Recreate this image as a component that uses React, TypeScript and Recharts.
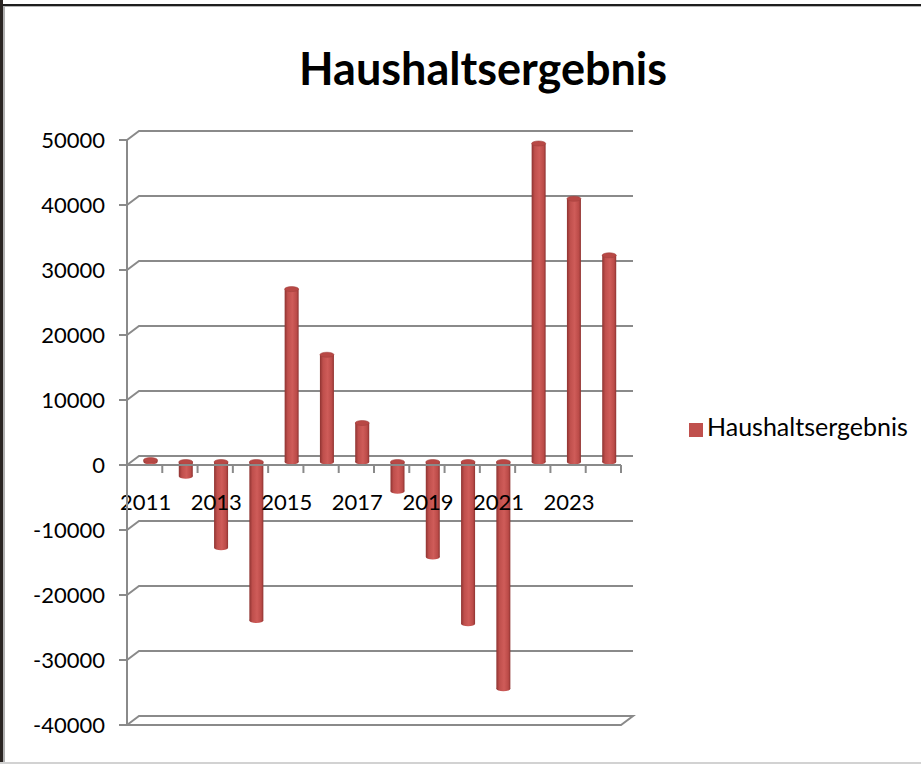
import React from 'react'
import {
  BarChart,
  Bar,
  XAxis,
  YAxis,
  CartesianGrid,
  ReferenceLine,
  Legend,
} from 'recharts'

const years = [
  '2011', '2012', '2013', '2014', '2015', '2016', '2017',
  '2018', '2019', '2020', '2021', '2022', '2023', '2024',
]
const haushaltsergebnis = [
  300, -2200, -13200, -24400, 26600, 16500, 6000,
  -4500, -14600, -24900, -34900, 49000, 40500, 31800,
]
const yTicks = [-40000, -30000, -20000, -10000, 0, 10000, 20000, 30000, 40000, 50000]
const labelledYears = ['2011', '2013', '2015', '2017', '2019', '2021', '2023']

const data = years.map((year, i) => ({ year, Haushaltsergebnis: haushaltsergebnis[i] }))

const FONT = 'Lato, "Open Sans", sans-serif'
const GRID = '#8a8a8a'
const RED = '#C0504D'
// 3d depth of the back wall and of the bars
const DX = 12
const DY = 9
const BAR_DX = 5.5
const BAR_DY = 3

function GridLine(props: any) {
  const { x1, y1, x2, y, height } = props
  const isFloor = Math.abs(y1 - (y + height)) < 1
  if (isFloor) {
    return (
      <path
        d={`M${x1},${y1} L${x1 + DX},${y1 - DY} L${x2 + DX},${y1 - DY} L${x2},${y1} Z`}
        fill="#fff"
        stroke={GRID}
        strokeWidth={2}
      />
    )
  }
  return (
    <path
      d={`M${x1},${y1} L${x1 + DX},${y1 - DY} L${x2 + DX},${y1 - DY}`}
      fill="none"
      stroke={GRID}
      strokeWidth={2}
    />
  )
}

function Cylinder(props: any) {
  const { x, y, width, height } = props
  const top = Math.min(y, y + height) - BAR_DY
  const h = Math.abs(height)
  const cx = x + width / 2 + BAR_DX
  const left = cx - width / 2
  const ry = 2.5
  return (
    <g>
      <ellipse cx={cx} cy={top + h} rx={width / 2} ry={ry} fill="url(#cyl)" />
      <rect x={left} y={top} width={width} height={h} fill="url(#cyl)" />
      <ellipse cx={cx} cy={top} rx={width / 2} ry={ry} fill="#b84845" stroke="#a23f3c" strokeWidth={0.6} />
    </g>
  )
}

function ZeroAxis({ viewBox }: any) {
  const { x, y, width } = viewBox
  const band = width / years.length
  return (
    <g>
      {years.map((yr, i) => (
        <line
          key={'t' + yr}
          x1={x + band * (i + 1)}
          x2={x + band * (i + 1)}
          y1={y}
          y2={y + 8}
          stroke={GRID}
          strokeWidth={2}
        />
      ))}
      {years.map((yr, i) =>
        labelledYears.includes(yr) ? (
          <text
            key={'l' + yr}
            x={x + band * (i + 0.5) + 1}
            y={y + 45}
            textAnchor="middle"
            fontSize={22}
            fontFamily={FONT}
            fill="#000"
          >
            {yr}
          </text>
        ) : null
      )}
    </g>
  )
}

export default function App() {
  return (
    <div style={{ position: 'absolute', left: 0, top: 0, width: 921, height: 764, background: '#fff' }}>
      <BarChart
        width={921}
        height={764}
        data={data}
        margin={{ top: 140, right: 300, bottom: 39, left: 67 }}
      >
        <defs>
          <linearGradient id="cyl" x1="0" y1="0" x2="1" y2="0">
            <stop offset="0%" stopColor="#8e3331" />
            <stop offset="22%" stopColor="#bf4f4c" />
            <stop offset="55%" stopColor="#cf5c59" />
            <stop offset="85%" stopColor="#bb4b48" />
            <stop offset="100%" stopColor="#8e3331" />
          </linearGradient>
        </defs>
        <CartesianGrid vertical={false} horizontal={GridLine} />
        <XAxis dataKey="year" hide />
        <YAxis
          domain={[-40000, 50000]}
          ticks={yTicks}
          interval={0}
          width={60}
          tickSize={8}
          tickMargin={14}
          axisLine={{ stroke: GRID, strokeWidth: 2 }}
          tickLine={{ stroke: GRID, strokeWidth: 2 }}
          tick={{ fill: '#000', fontSize: 22, fontFamily: FONT }}
        />
        <Bar
          dataKey="Haushaltsergebnis"
          fill={RED}
          barSize={14}
          shape={Cylinder}
          isAnimationActive={false}
        />
        <ReferenceLine
          y={0}
          stroke={GRID}
          strokeWidth={2}
          label={(p: any) => <ZeroAxis viewBox={p.viewBox} />}
        />
        <Legend
          layout="vertical"
          align="center"
          verticalAlign="middle"
          iconType="square"
          iconSize={14}
          wrapperStyle={{ left: 689, top: 411, width: 232, fontFamily: FONT, fontSize: 25 }}
          formatter={(v: string) => <span style={{ color: '#000' }}>{v}</span>}
        />
      </BarChart>
      <svg
        width={921}
        height={764}
        style={{ position: 'absolute', left: 0, top: 0, pointerEvents: 'none' }}
      >
        <text x={483} y={85} textAnchor="middle" fontSize={45} fontWeight={700} fontFamily={FONT} fill="#000">
          Haushaltsergebnis
        </text>
        <rect x={0} y={4} width={921} height={2} fill="#1e1e1e" />
        <rect x={0} y={6} width={921} height={1} fill="#b5b5b5" />
        <rect x={0} y={0} width={3} height={764} fill="#2a2522" />
        <rect x={3} y={6} width={2} height={758} fill="#b0b0b0" />
        <rect x={0} y={762} width={921} height={2} fill="#d2d2d2" />
      </svg>
    </div>
  )
}
